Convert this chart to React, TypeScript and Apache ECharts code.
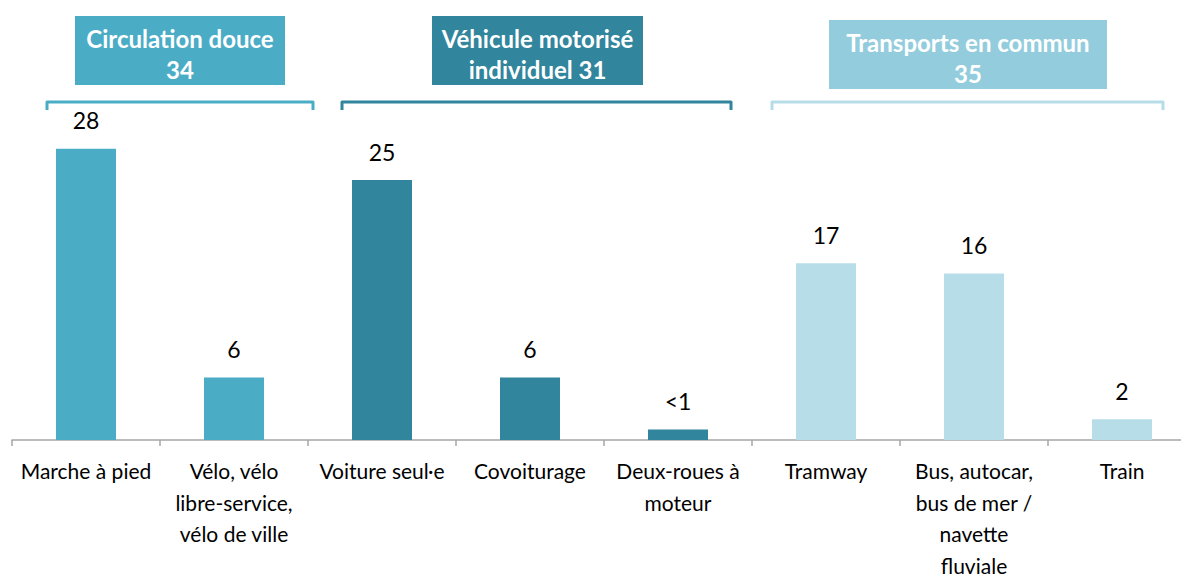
import React, { useEffect, useRef } from "react";
import * as echarts from "echarts";

const categories = [
  "Marche à pied",
  "Vélo, vélo\nlibre-service,\nvélo de ville",
  "Voiture seul·e",
  "Covoiturage",
  "Deux-roues à\nmoteur",
  "Tramway",
  "Bus, autocar,\nbus de mer /\nnavette\nfluviale",
  "Train",
];
const values = [28, 6, 25, 6, 1, 17, 16, 2];
const valueLabels = ["28", "6", "25", "6", "<1", "17", "16", "2"];
const groupOfBar = [0, 0, 1, 1, 1, 2, 2, 2];
const groupNames = ["Circulation douce\n34", "Véhicule motorisé\nindividuel 31", "Transports en commun\n35"];

const barColors = ["#4BACC6", "#31859C", "#B7DEE8"];
const boxColors = ["#4BACC6", "#31859C", "#93CDDD"];
const bracketColors = ["#4BACC6", "#31859C", "#B7DEE8"];

const FONT = "Lato, 'Noto Sans', sans-serif";

export default function App() {
  const ref = useRef<HTMLDivElement>(null);
  useEffect(() => {
    if (!ref.current) return;
    const chart = echarts.init(ref.current, undefined, { renderer: "svg" });
    const boxes = [
      { x: 75, y: 16, w: 210, h: 69 },
      { x: 432, y: 16, w: 211, h: 69 },
      { x: 829, y: 20, w: 278, h: 69 },
    ];
    const brackets = [
      { x1: 47, x2: 313 },
      { x1: 342, x2: 731 },
      { x1: 772, x2: 1163 },
    ];
    const graphics: any[] = [];
    boxes.forEach((b, i) => {
      graphics.push({
        type: "rect",
        shape: { x: b.x, y: b.y, width: b.w, height: b.h },
        style: { fill: boxColors[i] },
        silent: true,
      });
      graphics.push({
        type: "text",
        x: b.x + b.w / 2,
        y: b.y + b.h / 2 + 3,
        style: {
          text: groupNames[i],
          fill: "#ffffff",
          font: `bold 24px ${FONT}`,
          lineHeight: 31,
          align: "center",
          verticalAlign: "middle",
        },
        silent: true,
      });
    });
    brackets.forEach((br, i) => {
      graphics.push({
        type: "polyline",
        shape: {
          points: [
            [br.x1, 110],
            [br.x1, 102],
            [br.x2, 102],
            [br.x2, 110],
          ],
        },
        style: { stroke: bracketColors[i], lineWidth: 3, fill: null, lineJoin: "round", lineCap: "butt" },
        silent: true,
      });
    });

    chart.setOption({
      animation: false,
      grid: { left: 12, right: -15, top: 24, bottom: 134, outerBoundsMode: "none" },
      xAxis: {
        type: "category",
        data: categories,
        axisLine: { show: true, lineStyle: { color: "#A6A6A6", width: 1.5 } },
        axisTick: { show: true, length: 6, lineStyle: { color: "#A6A6A6", width: 1.5 } },
        axisLabel: {
          interval: 0,
          color: "#000000",
          fontSize: 21,
          fontFamily: FONT,
          lineHeight: 31.5,
          margin: 15,
          verticalAlign: "top",
        },
      },
      yAxis: {
        type: "value",
        min: 0,
        max: 40,
        show: false,
        splitLine: { show: false },
      },
      series: [
        {
          type: "bar",
          barWidth: 60,
          data: values.map((v, i) => ({ value: v, itemStyle: { color: barColors[groupOfBar[i]] } })),
          label: {
            show: true,
            position: "top",
            distance: 17,
            color: "#000000",
            fontSize: 23,
            fontFamily: FONT,
            formatter: (p: any) => valueLabels[p.dataIndex],
          },
        },
      ],
      graphic: graphics,
    });
    return () => chart.dispose();
  }, []);
  return (
    <div
      ref={ref}
      style={{ position: "absolute", left: 0, top: 0, width: 1181, height: 574, background: "#ffffff" }}
    />
  );
}
